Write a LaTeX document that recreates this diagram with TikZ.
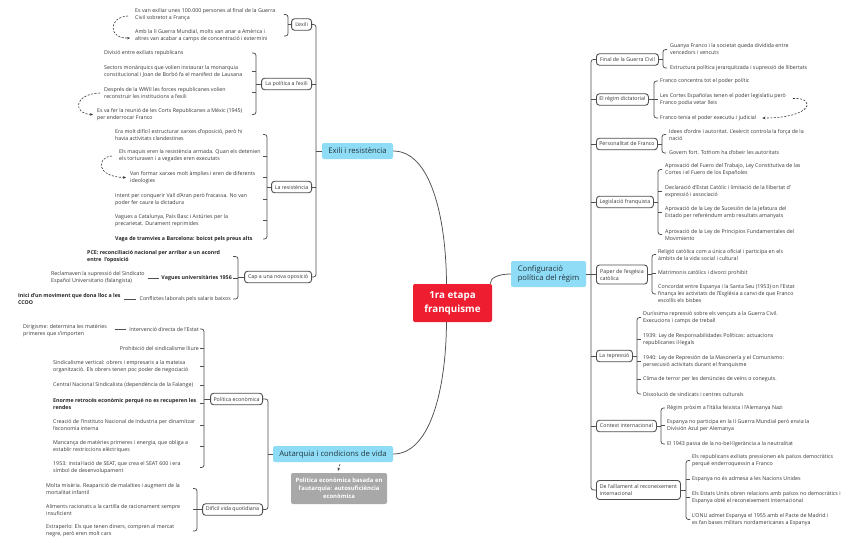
\documentclass[tikz,border=0pt]{standalone}
\usepackage{fontspec}
\setmainfont{Open Sans}
\usetikzlibrary{calc,arrows.meta}
\definecolor{txt}{HTML}{363636}
\definecolor{lnc}{HTML}{4F4F4F}
\definecolor{topicblue}{HTML}{8FDCF7}
\definecolor{centred}{HTML}{EE1D2F}
\definecolor{notegray}{HTML}{A8A8A8}
\definecolor{topictxt}{HTML}{25353D}
\newcommand\itf{\fontsize{5.3}{7}\selectfont}
\newcommand\mybrack[4]{\draw[brk] ($(#1|-#2)+(#4,0)$) -- (#1|-#2) -- (#1|-#3) -- ($(#1|-#3)+(#4,0)$);}
\newcommand\mystub[3]{\draw[ln] (#1|-#2) -- ++(#3,0);}
\tikzset{
 itm/.style={anchor=west, align=left, inner sep=0pt, font=\itf, text=txt},
 itmr/.style={anchor=east, align=left, inner sep=0pt, font=\itf, text=txt},
 bld/.style={font=\itf\bfseries, text=black!85},
 sub/.style={draw=lnc, line width=0.9pt, rounded corners=3pt, fill=white, font=\itf, text=txt, inner xsep=2pt, inner ysep=0pt, minimum height=11.5pt, align=center},
 subL/.style={sub, anchor=east},
 subR/.style={sub, anchor=west},
 topic/.style={fill=topicblue, rounded corners=2pt, font=\fontsize{7.7}{9.5}\selectfont, text=topictxt, align=left, inner sep=0pt},
 ln/.style={draw=lnc, line width=0.75pt},
 brk/.style={ln, rounded corners=2.5pt},
 dsh/.style={draw=black!80, line width=0.6pt, dash pattern=on 2pt off 1.5pt, -{Stealth[length=3pt,width=2.6pt]}},
}
\begin{document}
\begin{tikzpicture}[x=1pt,y=-1pt]
\useasboundingbox (0,0) rectangle (848,542);
\fill[white] (0,0) rectangle (848,542);

% ---------- central and main topics
\node[fill=centred, rounded corners=2pt, minimum width=79pt, minimum height=38pt, inner sep=0pt, text=white, font=\fontsize{9.8}{14}\selectfont\bfseries, align=center] (c) at (452.5,303) {1ra etapa\\franquisme};
\node[topic, minimum width=71pt, minimum height=16pt] (ex) at (357.5,151) {Exili i resistència};
\node[topic, minimum width=120pt, minimum height=16pt] (au) at (333,454) {Autarquia i condicions de vida};
\node[topic, minimum width=75pt, minimum height=26pt] (cf) at (548.5,274) {Configuració\\política del règim};
\node[fill=notegray, rounded corners=2pt, minimum width=96pt, minimum height=31pt, inner sep=0pt, text=white, font=\fontsize{5.9}{8}\selectfont\bfseries, align=center] (nt) at (339,488.5) {Política econòmica basada en\\l'autarquia: autosuficiència\\econòmica};

\draw[ln] (ex.east) .. controls (430,151) and (446,215) .. ($(c.north)+(-6,0)$);
\draw[ln] ($(c.south)+(-6,0)$) .. controls (446,390) and (430,454) .. (au.east);
\draw[ln] (cf.west) .. controls (498,274) and (490,278) .. ($(c.north east)+(-2,0)$);
\draw[dsh] ($(au.south)+(7,2)$) -- ($(nt.north)+(-1,-2)$);

% ---------- Exili i resistencia
\node[subL, minimum width=20pt] (lx) at (312,24.5) {L'exili};
\node[subL, minimum width=50pt] (lp) at (312,84) {La política a l'exili};
\node[subL, minimum width=40pt] (lr) at (312,187) {La resistència};
\node[subL, minimum width=67pt] (lc) at (312,277) {Cap a una nova oposició};
\coordinate (vL) at (316,0);
\draw[brk] (lx.east) -- (vL|-lx) -- (vL|-lc) -- (lc.east);
\draw[ln] (lp.east) -- (vL|-lp);
\draw[ln] (lr.east) -- (vL|-lr);
\draw[ln] (ex.west) -- (vL|-ex);

% L'exili
\node[itm] (ex1) at (135,14.5) {Es van exiliar unes 100.000 persones al final de la Guerra\\Civil sobretot a França};
\node[itm] (ex2) at (135,36) {Amb la II Guerra Mundial, molts van anar a Amèrica i\\altres van acabar a camps de concentració i extermini};
\coordinate (bx1) at (288,0);
\mybrack{bx1}{ex1}{ex2}{-4}
\draw[ln] (lx.west) -- (bx1|-lx);
\draw[dsh] ($(ex1.west)+(-7,1.5)$) .. controls (108,17) and (108,39) .. ($(ex2.west)+(-5,2)$);

% La politica a l'exili
\node[itm] (pol1) at (104,53) {Divisió entre exiliats republicans};
\node[itm] (pol2) at (104,71) {Sectors monàrquics que volien instaurar la monarquia\\constitucional i Joan de Borbó fa el manifest de Lausana};
\node[itm] (pol3) at (104,92.5) {Després de la WWII les forces republicanes volien\\reconstruir les institucions a l'exili};
\node[itm] (pol4) at (97,114.5) {Es va fer la reunió de les Corts Republicanes a Mèxic (1945)\\per enderrocar Franco};
\coordinate (bx2) at (256,0);
\mybrack{bx2}{pol1}{pol4}{-4}
\foreach \i in {pol2,pol3} {\mystub{bx2}{\i}{-4}}
\draw[ln] (lp.west) -- (bx2|-lp);
\draw[dsh] ($(pol3.west)+(-4,0.5)$) .. controls (73,94) and (73,114) .. ($(pol4.west)+(-4,0)$);

% La resistencia
\node[itm] (res1) at (115,134.5) {Era molt difícil estructurar xarxes d'oposició, però hi\\havia activitats clandestines};
\node[itm] (res2) at (119,156) {Els maquis eren la resistència armada. Quan els detenien\\els torturaven i a vegades eren executats};
\node[itm] (res3) at (130,177.5) {Van formar xarxes molt àmplies i eren de diferents\\ideologies};
\node[itm] (res4) at (115,199.5) {Intent per conquerir Vall d'Aran però fracassa. No van\\poder fer caure la dictadura};
\node[itm] (res5) at (115,220.5) {Vagues a Catalunya, País Basc i Astúries per la\\precarietat. Durament reprimides};
\node[itm, bld] (res6) at (115,239) {Vaga de tramvies a Barcelona: boicot pels preus alts};
\coordinate (bx3) at (267,0);
\mybrack{bx3}{res1}{res6}{-4}
\foreach \i in {res2,res3,res4,res5} {\mystub{bx3}{\i}{-4}}
\draw[ln] (lr.west) -- (bx3|-lr);
\draw[dsh] ($(res2.west)+(-7,0)$) .. controls (96,157) and (96,177) .. ($(res3.west)+(-4,0)$);

% Cap a una nova oposicio
\node[itm, bld] (cap1) at (87,256.5) {PCE: reconciliació nacional per arribar a un aconrd\\entre~ l'oposició};
\node[itmr, bld] (cap2) at (232,278) {Vagues universitàries 1956};
\node[itm] (cap2a) at (51,277.5) {Reclamaven la supressió del Sindicato\\Español Universitario (falangista)};
\node[itmr] (cap3) at (231,299) {Conflictes laborals pels salaris baixos};
\node[itm, bld] (cap3a) at (18,299.5) {Inici d'un moviment que dona lloc a les\\CCOO};
\coordinate (bx4) at (238,0);
\mybrack{bx4}{cap1}{cap3}{-5}
\mystub{bx4}{cap2}{-5}
\draw[ln] (lc.west) -- (bx4|-lc);
\draw[ln, shorten <=3pt, shorten >=2pt] (cap2a.east|-cap2) -- (cap2.west);
\draw[ln, shorten <=3pt, shorten >=3pt] (cap3a.east|-cap3) -- (cap3.west);

% ---------- Autarquia
\node[subL, minimum width=52pt] (lpe) at (263,399) {Política econòmica};
\node[subL, minimum width=60pt] (ldv) at (263,509.5) {Difícil vida quotidiana};
\coordinate (vA) at (268,0);
\draw[brk] (lpe.east) -- (vA|-lpe) -- (vA|-ldv) -- (ldv.east);
\draw[ln] (au.west) -- (vA|-au);

\node[itmr] (pe1) at (199,329) {Intervenció directa de l'Estat};
\node[itm] (pe1a) at (23,330.5) {Dirigisme: determina les matèries\\primeres que s'importen};
\node[itmr] (pe2) at (199,348) {Prohibició del sindicalisme lliure};
\node[itm] (pe3) at (53,366.5) {Sindicalisme vertical: obrers i empresaris a la mateixa\\organització. Els obrers tenen poc poder de negociació};
\node[itm] (pe4) at (53,385) {Central Nacional Sindicalista (dependència de la Falange)};
\node[itm, bld] (pe5) at (53,403.5) {Enorme retrocés econòmic perquè no es recuperen les\\rendes};
\node[itm] (pe6) at (53,425) {Creació de l'Instituto Nacional de Industria per dinamitzar\\l'economia interna};
\node[itm] (pe7) at (53,446.5) {Mancança de matèries primeres i energia, que obliga a\\establir restriccions elèctriques};
\node[itm] (pe8) at (53,467.5) {1953: instal·lació de SEAT, que crea el SEAT 600 i era\\símbol de desenvolupament};
\coordinate (bx5) at (204,0);
\mybrack{bx5}{pe1}{pe8}{-4}
\foreach \i in {pe2,pe3,pe4,pe5,pe6,pe7} {\mystub{bx5}{\i}{-4}}
\draw[ln] (lpe.west) -- (bx5|-lpe);
\draw[ln, shorten <=8pt, shorten >=3pt] (pe1a.east|-pe1) -- (pe1.west);

\node[itm] (dv1) at (46,488.5) {Molta misèria. Reaparició de malalties i augment de la\\mortalitat infantil};
\node[itm] (dv2) at (46,509.5) {Aliments racionats a la cartilla de racionament sempre\\insuficient};
\node[itm] (dv3) at (46,531) {Estraperlo: Els que tenen diners, compren al mercat\\negre, però eren molt cars};
\coordinate (bx6) at (197,0);
\mybrack{bx6}{dv1}{dv3}{-4}
\mystub{bx6}{dv2}{-4}
\draw[ln] (ldv.west) -- (bx6|-ldv);

% ---------- Configuracio
\node[subR, minimum width=62pt] (rf) at (596,59.5) {Final de la Guerra Civil};
\node[subR, minimum width=52pt] (rr) at (596,99.5) {El règim dictatorial};
\node[subR, minimum width=61pt] (rpf) at (596,144) {Personalitat de Franco};
\node[subR, minimum width=57pt] (rl) at (596,202) {Legislació franquista};
\node[subR, minimum width=51pt, minimum height=19pt, align=left] (rpc) at (596,274.5) {Paper de l'esgésia\\catòlica};
\node[subR, minimum width=36pt] (rrp) at (596,356) {La repressió};
\node[subR, minimum width=60pt] (rci) at (596,426) {Context internacional};
\node[subR, minimum width=84pt, minimum height=19pt, align=left] (rai) at (596,490) {De l'aïllament al reconeixement\\internacional};
\coordinate (vR) at (591,0);
\draw[brk] (rf.west) -- (vR|-rf) -- (vR|-rai) -- (rai.west);
\foreach \b in {rr,rpf,rl,rpc,rrp,rci} {\draw[ln] (\b.west) -- (vR|-\b);}
\draw[ln] (cf.east) -- (vR|-cf);

\node[itm] (fg1) at (670,49.5) {Guanya Franco i la societat queda dividida entre\\vencedors i vencuts};
\node[itm] (fg2) at (670,68) {Estructura política jerarquitzada i supressió de llibertats};
\coordinate (by1) at (663,0);
\mybrack{by1}{fg1}{fg2}{4}
\draw[ln] (rf.east) -- (by1|-rf);

\node[itm] (rd1) at (660,81) {Franco concentra tot el poder polític};
\node[itm] (rd2) at (660,99.5) {Les Cortes Españolas tenen el poder legislatiu però\\Franco podia vetar lleis};
\node[itm] (rd3) at (660,118) {Franco tenia el poder executiu i judicial};
\coordinate (by2) at (654,0);
\mybrack{by2}{rd1}{rd3}{4}
\mystub{by2}{rd2}{4}
\draw[ln] (rr.east) -- (by2|-rr);
\draw[dsh] ($(rd2.east)+(7,-1)$) .. controls (816,97) and (814,118) .. ($(rd3.east)+(6,0)$);

\node[itm] (pf1) at (669,134.5) {Idees d'ordre i autoritat. L'exèrcit controla la força de la\\nació};
\node[itm] (pf2) at (669,153) {Govern fort. Tothom ha d'obeir les autoritats};
\coordinate (by3) at (662,0);
\mybrack{by3}{pf1}{pf2}{4}
\draw[ln] (rpf.east) -- (by3|-rpf);

\node[itm] (lf1) at (665,169.5) {Aprovació del Fuero del Trabajo, Ley Constitutiva de las\\Cortes i el Fuero de los Españoles};
\node[itm] (lf2) at (665,191.5) {Declaració d'Estat Catòlic i limitació de la llibertat d'\\expressió i associació};
\node[itm] (lf3) at (665,212.5) {Aprovació de la Ley de Sucesión de la Jefatura del\\Estado per referèndum amb resultats amanyats};
\node[itm] (lf4) at (665,234.5) {Aprovació de la Ley de Principios Fundamentales del\\Movimiento};
\coordinate (by4) at (658,0);
\mybrack{by4}{lf1}{lf4}{4}
\foreach \i in {lf2,lf3} {\mystub{by4}{\i}{4}}
\draw[ln] (rl.east) -- (by4|-rl);

\node[itm] (pc1) at (658,254.5) {Religió catòlica com a única oficial i participa en els\\àmbits de la vida social i cultural};
\node[itm] (pc2) at (658,273) {Matrimonis catòlics i divorci prohibit};
\node[itm] (pc3) at (658,294) {Concordat entre Espanya i la Santa Seu (1953) on l'Estat\\finança les activitats de l'Església a canvi de que Franco\\escollís els bisbes};
\coordinate (by5) at (652,0);
\mybrack{by5}{pc1}{pc3}{4}
\mystub{by5}{pc2}{4}
\draw[ln] (rpc.east) -- (by5|-rpc);

\node[itm] (rp1) at (643,317.5) {Duríssima repressió sobre els vençuts a la Guerra Civil.\\Execucions i camps de treball};
\node[itm] (rp2) at (643,339.5) {1939: Ley de Responsabilidades Políticas: actuacions\\republicanes il·legals};
\node[itm] (rp3) at (643,361.5) {1940: Ley de Represión de la Masonería y el Comunismo:\\persecusió activitats durant el franquisme};
\node[itm] (rp4) at (643,379) {Clima de terror per les denúncies de veïns o coneguts.};
\node[itm] (rp5) at (643,394) {Dissolució de sindicats i centres culturals};
\coordinate (by6) at (637,0);
\mybrack{by6}{rp1}{rp5}{4}
\foreach \i in {rp2,rp3,rp4} {\mystub{by6}{\i}{4}}
\draw[ln] (rrp.east) -- (by6|-rrp);

\node[itm] (ci1) at (667,408) {Règim pròxim a l'Itàlia feixista i l'Alemanya Nazi};
\node[itm] (ci2) at (667,425.5) {Espanya no participa en la II Guerra Mundial però envia la\\División Azul per Alemanya};
\node[itm] (ci3) at (667,444) {El 1943 passa de la no-bel·ligerància a la neutralitat};
\coordinate (by7) at (661,0);
\mybrack{by7}{ci1}{ci3}{4}
\mystub{by7}{ci2}{4}
\draw[ln] (rci.east) -- (by7|-rci);

\node[itm] (ai1) at (692,460.5) {Els republicans exiliats pressionen els països democràtics\\perquè enderroquessin a Franco};
\node[itm] (ai2) at (692,479) {Espanya no és admesa a les Nacions Unides};
\node[itm] (ai3) at (692,497.5) {Els Estats Units obren relacions amb països no democràtics i\\Espanya obté el reconeixement internacional};
\node[itm] (ai4) at (692,519.5) {L'ONU admet Espanya el 1955 amb el Pacte de Madrid i\\es fan bases militars nordamericanes a Espanya};
\coordinate (by8) at (686,0);
\mybrack{by8}{ai1}{ai4}{4}
\foreach \i in {ai2,ai3} {\mystub{by8}{\i}{4}}
\draw[ln] (rai.east) -- (by8|-rai);
\end{tikzpicture}
\end{document}
